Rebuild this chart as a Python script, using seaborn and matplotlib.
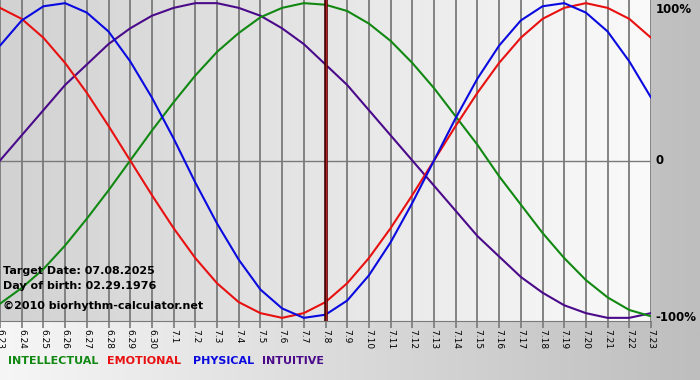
import numpy as np
import pandas as pd
import matplotlib
matplotlib.use('Agg')
import matplotlib.pyplot as plt
from matplotlib.colors import LinearSegmentedColormap
import seaborn as sns

# Data (one value per day, 6.23 .. 7.23)
day_labels = ['6.23', '6.24', '6.25', '6.26', '6.27', '6.28', '6.29', '6.30',
              '7.1', '7.2', '7.3', '7.4', '7.5', '7.6', '7.7', '7.8', '7.9',
              '7.10', '7.11', '7.12', '7.13', '7.14', '7.15', '7.16', '7.17',
              '7.18', '7.19', '7.20', '7.21', '7.22', '7.23']
intellectual = [-0.91, -0.81, -0.69, -0.54, -0.37, -0.19, 0.00, 0.19, 0.37, 0.54,
                0.69, 0.81, 0.91, 0.97, 1.00, 0.99, 0.95, 0.87, 0.76, 0.62,
                0.46, 0.28, 0.10, -0.10, -0.28, -0.46, -0.62, -0.76, -0.87, -0.95, -0.99]
emotional = [0.97, 0.90, 0.78, 0.62, 0.43, 0.22, 0.00, -0.22, -0.43, -0.62,
             -0.78, -0.90, -0.97, -1.00, -0.97, -0.90, -0.78, -0.62, -0.43, -0.22,
             0.00, 0.22, 0.43, 0.62, 0.78, 0.90, 0.97, 1.00, 0.97, 0.90, 0.78]
physical = [0.73, 0.89, 0.98, 1.00, 0.94, 0.82, 0.63, 0.40, 0.14, -0.14,
            -0.40, -0.63, -0.82, -0.94, -1.00, -0.98, -0.89, -0.73, -0.52, -0.27,
            0.00, 0.27, 0.52, 0.73, 0.89, 0.98, 1.00, 0.94, 0.82, 0.63, 0.40]
intuitive = [0.00, 0.16, 0.32, 0.48, 0.61, 0.74, 0.84, 0.92, 0.97, 1.00,
             1.00, 0.97, 0.92, 0.84, 0.74, 0.61, 0.48, 0.32, 0.16, 0.00,
             -0.16, -0.32, -0.48, -0.61, -0.74, -0.84, -0.92, -0.97, -1.00, -1.00, -0.97]
target_index = 15  # 7.8

colors = {'INTELLECTUAL': '#118811', 'EMOTIONAL': '#e81010',
          'PHYSICAL': '#0a0ae0', 'INTUITIVE': '#4a0a8a'}

df = pd.DataFrame({'day': range(len(day_labels)),
                   'INTELLECTUAL': intellectual, 'EMOTIONAL': emotional,
                   'PHYSICAL': physical, 'INTUITIVE': intuitive})
long = df.melt(id_vars='day', var_name='cycle', value_name='value')

sns.set_style('white')
plt.rcParams['font.family'] = ['DejaVu Sans']
plt.rcParams['text.color'] = 'black'
plt.rcParams['xtick.color'] = 'black'

fig = plt.figure(figsize=(7, 3.8), dpi=100)

# figure background gradient
bg = fig.add_axes([0, 0, 1, 1], zorder=-10)
bg.imshow(np.linspace(0, 1, 256).reshape(1, -1), aspect='auto', extent=[0, 1, 0, 1],
          cmap=LinearSegmentedColormap.from_list('bg', ['#f6f6f6', '#bebebe']))
bg.axis('off')

ax = fig.add_axes([0, 1 - 321 / 380, 651 / 700, 321 / 380])
ax.imshow(np.linspace(0, 1, 256).reshape(1, -1), aspect='auto',
          extent=[0, len(day_labels) - 1, -1.02, 1.02], zorder=0,
          cmap=LinearSegmentedColormap.from_list('pl', ['#d2d2d2', '#e6e6e6', '#fafafa']))

for d in range(len(day_labels)):
    ax.axvline(d, color='#7a7a7a', lw=1.3, zorder=1)
ax.axhline(0, color='#7a7a7a', lw=1.0, zorder=1)

sns.lineplot(data=long, x='day', y='value', hue='cycle', palette=colors,
             hue_order=['INTUITIVE', 'INTELLECTUAL', 'EMOTIONAL', 'PHYSICAL'],
             linewidth=1.5, legend=False, ax=ax, zorder=3)

ax.axvline(target_index, color='#3a0000', lw=2.6, zorder=4)
ax.axvline(target_index, color='#b02020', lw=1.0, zorder=4)

ax.set_xlim(0, len(day_labels) - 1)
ax.set_ylim(-1.02, 1.02)
ax.set_xticks(range(len(day_labels)))
ax.set_xticklabels(day_labels, rotation=270, fontsize=6.5, color='black')
ax.tick_params(axis='x', length=5, color='#7a7a7a', width=1.2, pad=1, bottom=True)
ax.set_yticks([])
ax.set_xlabel('')
ax.set_ylabel('')
for s in ['top', 'left', 'right']:
    ax.spines[s].set_visible(False)
ax.spines['bottom'].set_color('#7a7a7a')

for val, txt, va in [(1.0, '100%', 'top'), (0.0, '0', 'center'), (-1.0, '-100%', 'center')]:
    ax.text(1.007, val, txt, transform=ax.get_yaxis_transform(), fontsize=8.5,
            fontweight='bold', va=va, ha='left', color='black')

# info text
info = ['Target Date: 07.08.2025', 'Day of birth: 02.29.1976',
        '\u00a92010 biorhythm-calculator.net']
for y, txt in zip([271, 286, 306], info):
    fig.text(3 / 700, 1 - y / 380, txt, fontsize=8, fontweight='bold',
             va='center', color='black')

# legend words
for x, name in [(8, 'INTELLECTUAL'), (107, 'EMOTIONAL'), (193, 'PHYSICAL'), (262, 'INTUITIVE')]:
    fig.text(x / 700, 1 - 361 / 380, name, color=colors[name], fontsize=8,
             fontweight='bold', va='center')

fig.savefig('out.png', dpi=100)
